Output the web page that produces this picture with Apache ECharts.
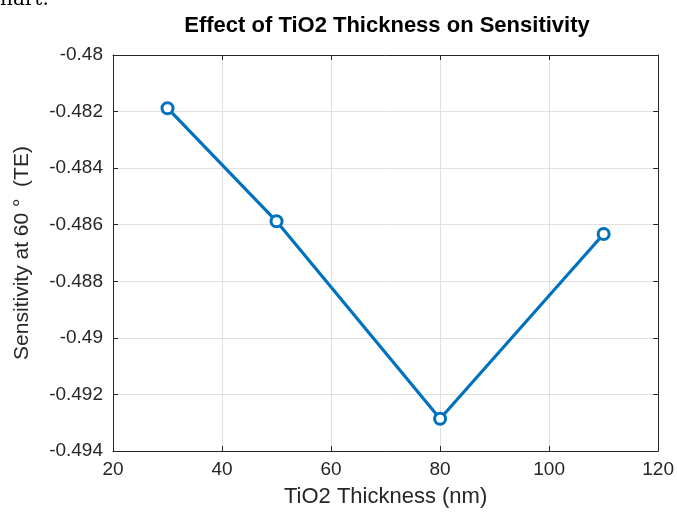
<!DOCTYPE html>
<html>
<head>
<meta charset="utf-8">
<script src="https://cdn.jsdelivr.net/npm/echarts@6/dist/echarts.min.js"></script>
<style>
  html, body { margin: 0; padding: 0; background: #fff; }
  #chart { width: 677px; height: 516px; }
</style>
</head>
<body>
<div id="chart"></div>
<script>
// values
var thickness = [30, 50, 80, 110];
var sensitivity = [-0.48188, -0.48588, -0.49286, -0.48633];
var yTicks = [-0.494, -0.492, -0.49, -0.488, -0.486, -0.484, -0.482, -0.48];
var xTicks = [20, 40, 60, 80, 100, 120];

var points = thickness.map(function(t, i) { return [t, sensitivity[i]]; });
var font = 'Liberation Sans, Arial, sans-serif';

var myChart = echarts.init(document.getElementById('chart'));
var option = {
  backgroundColor: '#fff',
  animation: false,
  title: {
    text: 'Effect of TiO2 Thickness on Sensitivity',
    left: 382,
    textAlign: 'center',
    top: 10,
    textStyle: { fontFamily: font, fontSize: 22, fontWeight: 'bold', color: '#000' }
  },
  graphic: [{
    type: 'text',
    left: 0,
    top: -10,
    style: { text: 'nart.', fontFamily: 'DejaVu Serif, serif', fontSize: 20, fill: '#000' }
  }],
  grid: { left: 113, right: 18, top: 55, bottom: 65, containLabel: false },
  xAxis: [{
    type: 'value',
    min: xTicks[0], max: xTicks[xTicks.length - 1], interval: 20,
    name: 'TiO2 Thickness (nm)',
    nameLocation: 'middle',
    nameGap: 35,
    nameTextStyle: { fontFamily: font, fontSize: 22, color: '#262626' },
    axisLine: { show: true, lineStyle: { color: '#262626', width: 1 } },
    axisTick: { show: true, inside: true, length: 5, lineStyle: { color: '#262626' } },
    axisLabel: { fontFamily: font, fontSize: 19, color: '#262626', margin: 9 },
    splitLine: { show: true, lineStyle: { color: '#e0e0e0', width: 1 } }
  }, {
    type: 'value', position: 'top',
    min: xTicks[0], max: xTicks[xTicks.length - 1], interval: 20,
    axisLine: { show: true, onZero: false, lineStyle: { color: '#262626', width: 1 } },
    axisTick: { show: true, inside: true, length: 5, lineStyle: { color: '#262626' } },
    axisLabel: { show: false },
    splitLine: { show: false }
  }],
  yAxis: [{
    type: 'value',
    min: yTicks[0], max: yTicks[yTicks.length - 1], interval: 0.002,
    name: 'Sensitivity at 60 °  (TE)',
    nameLocation: 'middle',
    nameGap: 80,
    nameTextStyle: { fontFamily: font, fontSize: 21, color: '#262626' },
    axisLine: { show: true, onZero: false, lineStyle: { color: '#262626', width: 1 } },
    axisTick: { show: true, inside: true, length: 5, lineStyle: { color: '#262626' } },
    axisLabel: {
      fontFamily: font, fontSize: 19, color: '#262626', margin: 10,
      formatter: function(v) { return String(parseFloat(v.toFixed(3))); }
    },
    splitLine: { show: true, lineStyle: { color: '#e0e0e0', width: 1 } }
  }, {
    type: 'value', position: 'right',
    min: yTicks[0], max: yTicks[yTicks.length - 1], interval: 0.002,
    axisLine: { show: true, onZero: false, lineStyle: { color: '#262626', width: 1 } },
    axisTick: { show: true, inside: true, length: 5, lineStyle: { color: '#262626' } },
    axisLabel: { show: false },
    splitLine: { show: false }
  }],
  series: [{
    type: 'line',
    data: points,
    symbol: 'circle',
    symbolSize: 11,
    showAllSymbol: true,
    lineStyle: { color: '#0072BD', width: 3.2 },
    itemStyle: { color: '#fff', borderColor: '#0072BD', borderWidth: 3 }
  }]
};
myChart.setOption(option);
</script>
</body>
</html>
